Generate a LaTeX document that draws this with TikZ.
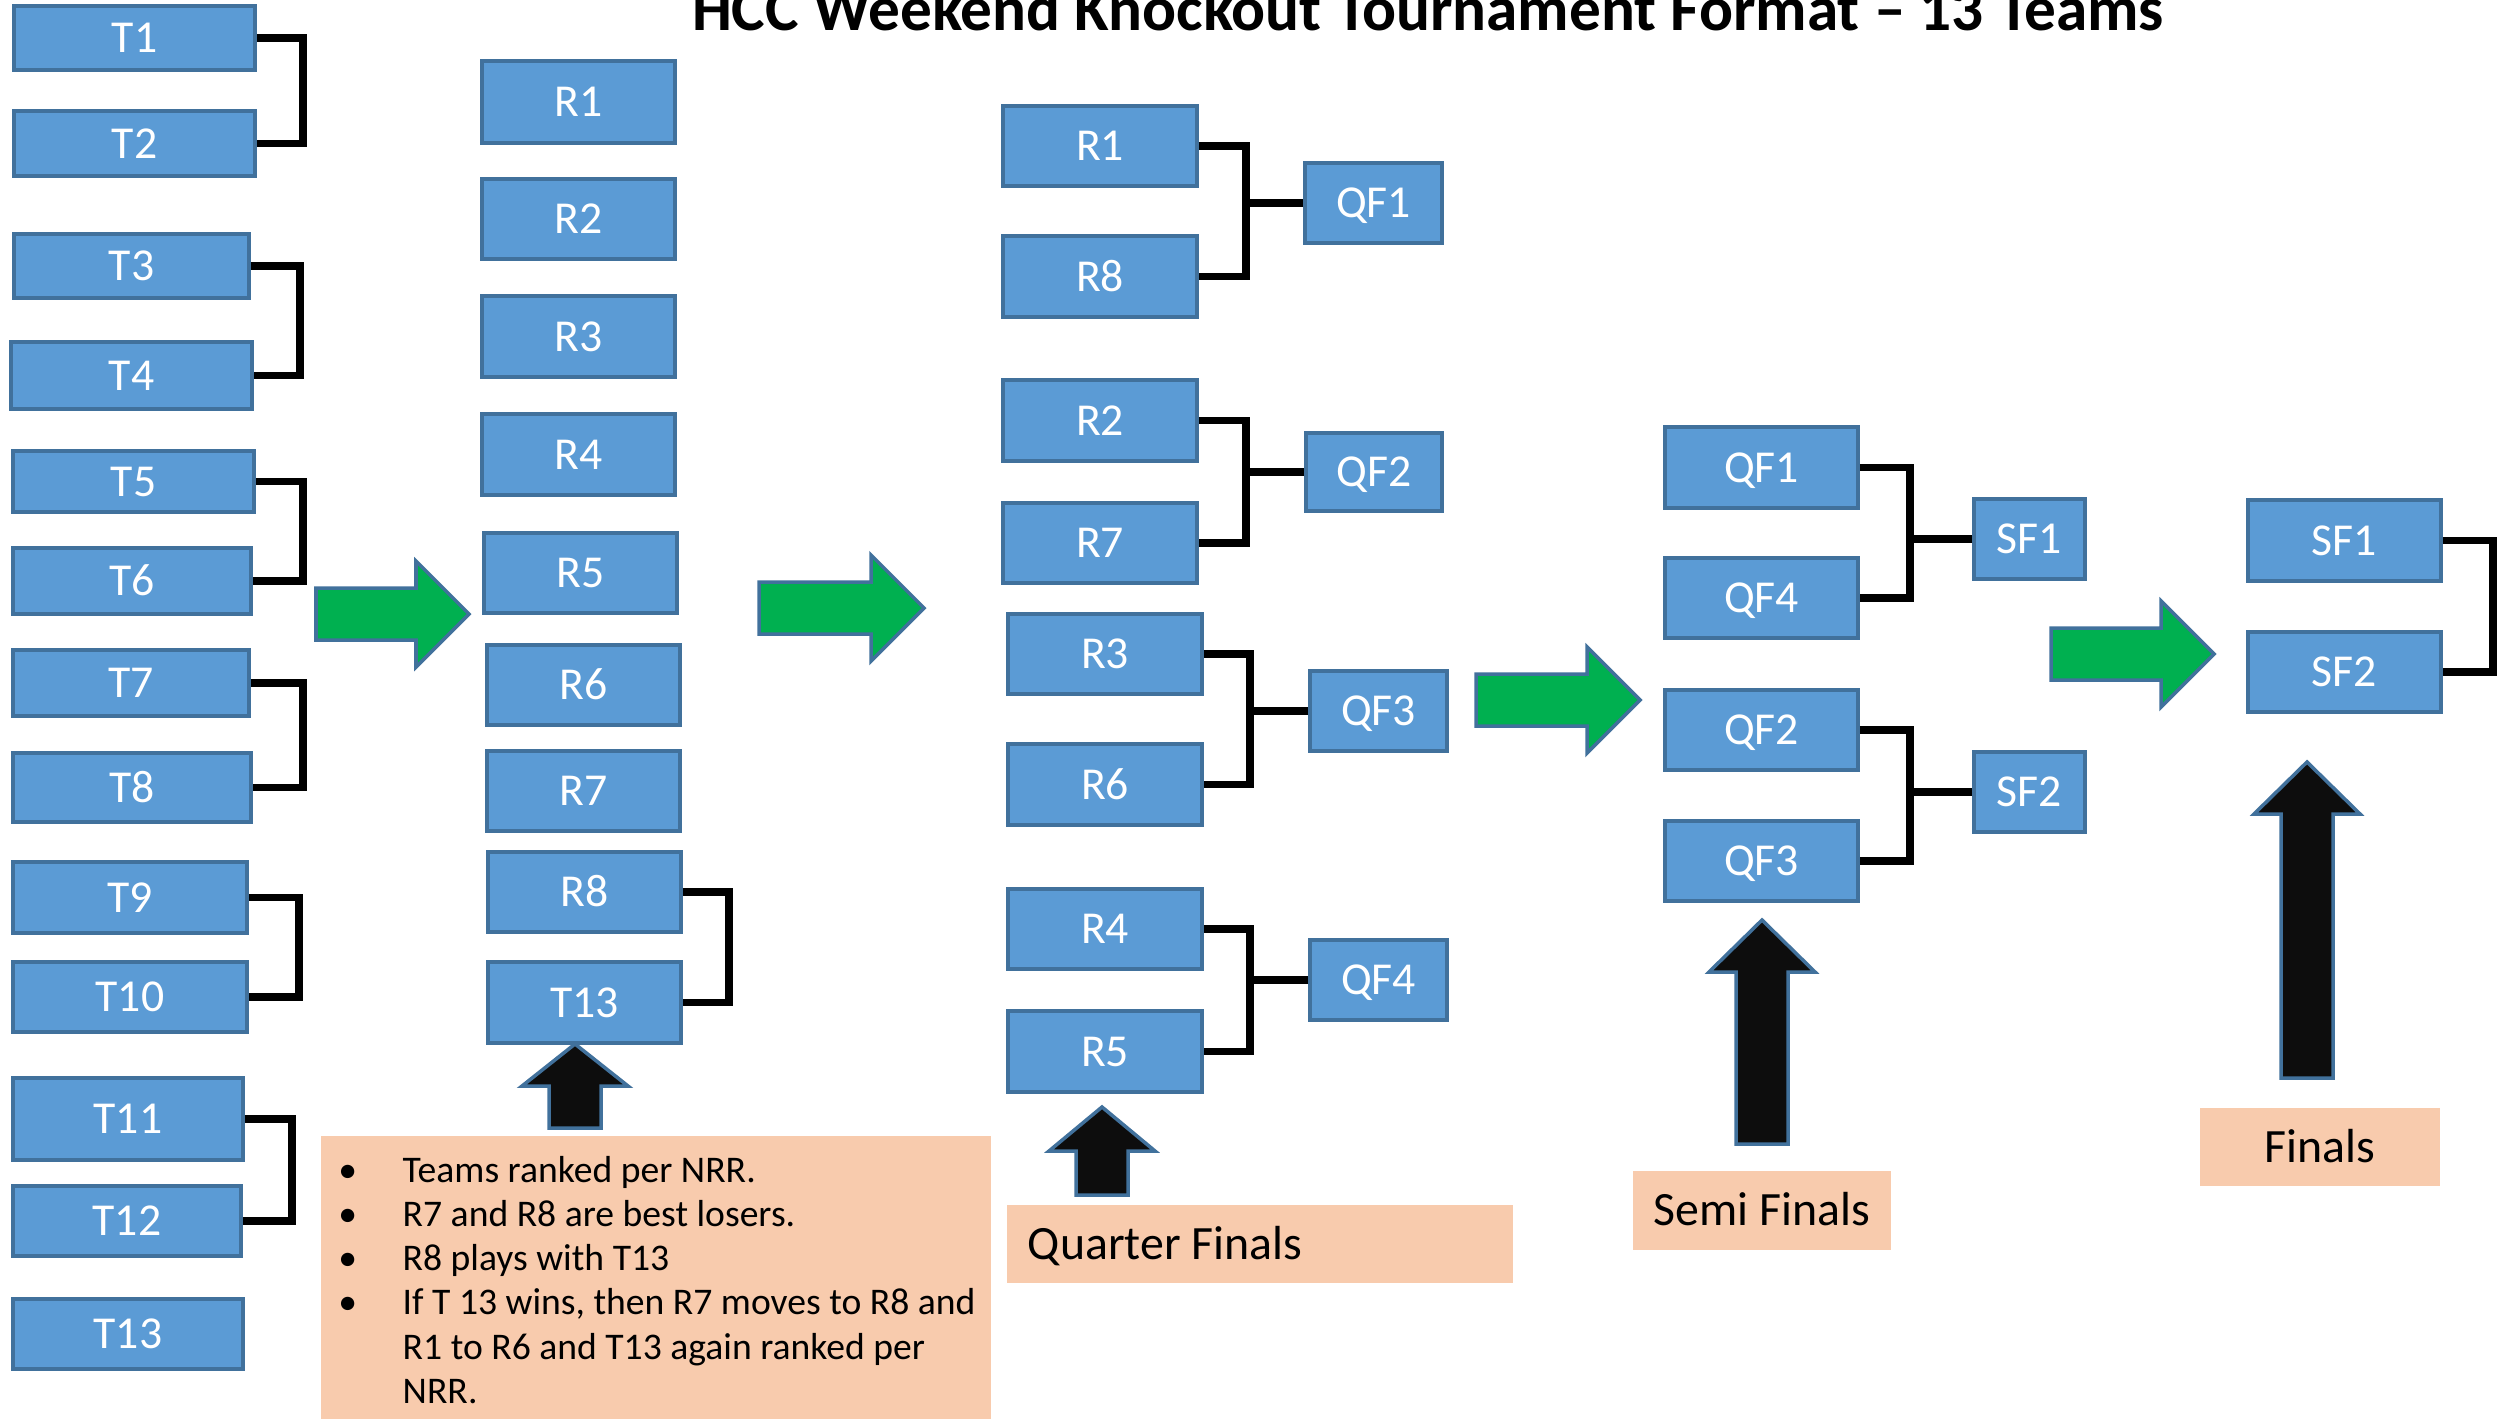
\documentclass[tikz,border=0pt]{standalone}
\usepackage{fontspec}
\setmainfont{Carlito}
\usepackage{xcolor}
\definecolor{boxblue}{HTML}{5B9BD5}
\definecolor{boxline}{HTML}{41719C}
\definecolor{arrowgreen}{HTML}{00B050}
\definecolor{arrowblack}{HTML}{0D0D0D}
\definecolor{notefill}{HTML}{F8CBAD}
\newcommand{\notebullet}{\makebox[15.65pt][l]{\makebox[0pt]{\textbullet}}}
\tikzset{
  bracket/.style={draw, black, line width=2.2pt, line join=miter},
}

\begin{document}
\begin{tikzpicture}[x=0.01cm, y=-0.01cm,
            team/.style={rectangle, draw=boxline, fill=boxblue, line width=1pt, text=white, inner sep=0pt, font=\fontsize{13pt}{15pt}\selectfont, text height=8.4pt, text depth=0pt},
            stage/.style={rectangle, fill=notefill, inner sep=0pt, font=\fontsize{13.6pt}{16pt}\selectfont, text height=8.8pt, text depth=0pt},
            fwd/.style={fill=arrowgreen, draw=boxline, line width=1pt},
            uparrow/.style={fill=arrowblack, draw=boxline, line width=1pt}]
            \path[fill=white] (0,0) rectangle (2504,1418);
            \useasboundingbox (0,0) rectangle (2504,1418);

            \node[anchor=base, font=\fontsize{18pt}{21pt}\selectfont\bfseries] (title) at (1428,31) {HCC Weekend Knockout Tournament Format – 13 Teams};

            \foreach \n/\t/\cx/\cy/\w/\h in {t1/T1/134.5/38/241/64, t2/T2/134.5/143.5/241/65, t3/T3/131.5/266/235/64, t4/T4/131.5/375.5/241/67,
                t5/T5/133.5/481.5/241/61, t6/T6/132/581/238/66, t7/T7/131/683/236/66, t8/T8/132/787.5/238/69,
                t9/T9/130/897.5/234/71, t10/T10/130/997/234/70, t11/T11/128/1119/230/82, t12/T12/127/1221/228/70, t13/T13/128/1334/230/70,
                r1/R1/578.5/102/193/82, r2/R2/578.5/219/193/80, r3/R3/578.5/336.5/193/81, r4/R4/578.5/454.5/193/81,
                r5/R5/580.5/573/193/80, r6/R6/583.5/685/193/80, r7/R7/583.5/791/193/80, r8/R8/584.5/892/193/80, r13/T13/584.5/1002.5/193/81,
                qr1/R1/1100/146/194/80, qr8/R8/1100/276.5/194/81, qr2/R2/1100/420.5/194/81, qr7/R7/1100/543/194/80,
                qr3/R3/1105/654/194/80, qr6/R6/1105/784.5/194/81, qr4/R4/1105/929/194/80, qr5/R5/1105/1051.5/194/81,
                qf1/QF1/1373.5/203/137/80, qf2/QF2/1374/472/136/78, qf3/QF3/1378.5/711/137/80, qf4/QF4/1378.5/980/137/80,
                sq1/QF1/1761.5/467.5/193/81, sq4/QF4/1761.5/598/193/80, sq2/QF2/1761.5/730/193/80, sq3/QF3/1761.5/861/193/80,
                sf1/SF1/2029.5/539/111/80, sf2/SF2/2029.5/792/111/80,
                fs1/SF1/2344.5/540.5/193/81, fs2/SF2/2344.5/672/193/80}
                \node[team, minimum width=\w*0.01cm, minimum height=\h*0.01cm] (\n) at (\cx,\cy) {\t};

            \foreach \a/\b/\d in {t1/t2/46, t3/t4/49, t5/t6/47, t7/t8/52, t9/t10/50, t11/t12/47, r8/r13/46, fs1/fs2/50}
                \draw[bracket] (\a.east) -- ++(\d,0) |- (\b.east);
            \foreach \a/\b/\c/\d in {qr1/qr8/qf1/47, qr2/qr7/qf2/47, qr3/qr6/qf3/46, qr4/qr5/qf4/46, sq1/sq4/sf1/50, sq2/sq3/sf2/50}
                \draw[bracket] (\a.east) -- ++(\d,0) coordinate (\c-in) |- (\b.east) (\c.west) -- (\c.west -| \c-in);

            \foreach \xa/\xb/\xt/\cy in {316/416/469/614, 759/871/924/608, 1476/1587/1640/700, 2051/2161/2214/654}
                \draw[fwd] (\xa,\cy-26) -- (\xb,\cy-26) -- (\xb,\cy-53) -- (\xt,\cy) -- (\xb,\cy+53) -- (\xb,\cy+26) -- (\xa,\cy+26) -- cycle;
            \foreach \cx/\ty/\by/\bot in {575/1044/1086/1128, 1102/1107/1151/1195, 1762/920/972/1144, 2307/762/814/1078}
                \draw[uparrow] (\cx-26,\bot) -- (\cx-26,\by) -- (\cx-53,\by) -- (\cx,\ty) -- (\cx+53,\by) -- (\cx+26,\by) -- (\cx+26,\bot) -- cycle;

            \node[fill=notefill, inner sep=0pt, anchor=north west, minimum width=6.7cm, minimum height=2.83cm] (notes) at (320,1135) {};
            \node[anchor=base west, inner sep=0pt, font=\fontsize{10.7pt}{12.6pt}\selectfont] (notetext) at (347,1182)
            {\begin{tabular}[t]{@{}l@{}l@{}}
                \notebullet & Teams ranked per NRR. \\
                \notebullet & R7 and R8 are best losers. \\
                \notebullet & R8 plays with T13 \\
                \notebullet & If T 13 wins, then R7 moves to R8 and \\
                            & R1 to R6 and T13 again ranked per \\
                            & NRR.
            \end{tabular}};

            \node[stage, minimum width=5.06cm, minimum height=0.78cm] (qlabel) at (1260,1244) {\makebox[4.64cm][l]{Quarter Finals}};
            \node[stage, minimum width=2.58cm, minimum height=0.79cm] (slabel) at (1762,1210.5) {Semi Finals};
            \node[stage, minimum width=2.4cm, minimum height=0.78cm] (flabel) at (2320,1147) {Finals};
\end{tikzpicture}
\end{document}
